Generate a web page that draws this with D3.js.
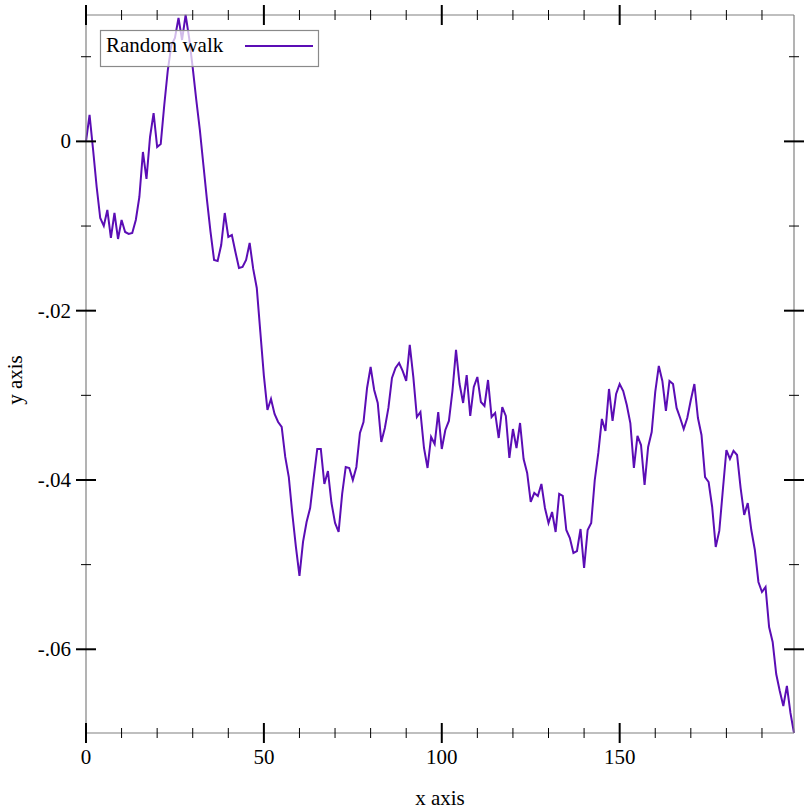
<!DOCTYPE html>
<html>
<head>
<meta charset="utf-8">
<script src="https://cdn.jsdelivr.net/npm/d3@7"></script>
<style>
  html, body { margin: 0; padding: 0; background: #ffffff; }
  svg { display: block; }
</style>
</head>
<body>
<svg id="chart" width="812" height="812"></svg>
<script>
// ---------------- data ----------------
const seriesName = "Random walk";
const walkValues = [
  0.00000, 0.00312, -0.00102, -0.00539, -0.00905, -0.00999, -0.00810, -0.01141, -0.00846, -0.01153,
  -0.00929, -0.01070, -0.01094, -0.01082, -0.00929, -0.00657, -0.00125, -0.00444, 0.00052, 0.00335,
  -0.00066, -0.00031, 0.00430, 0.00843, 0.01139, 0.01221, 0.01458, 0.01198, 0.01493, 0.01221,
  0.00867, 0.00489, 0.00135, -0.00279, -0.00692, -0.01070, -0.01401, -0.01413, -0.01224, -0.00846,
  -0.01129, -0.01106, -0.01307, -0.01496, -0.01484, -0.01401, -0.01200, -0.01507, -0.01732, -0.02252,
  -0.02771, -0.03173, -0.03043, -0.03220, -0.03315, -0.03374, -0.03728, -0.03965, -0.04402, -0.04791,
  -0.05134, -0.04732, -0.04496, -0.04331, -0.03976, -0.03634, -0.03634, -0.04047, -0.03894, -0.04272,
  -0.04508, -0.04614, -0.04165, -0.03846, -0.03858, -0.04000, -0.03846, -0.03445, -0.03315, -0.02913,
  -0.02665, -0.02937, -0.03090, -0.03551, -0.03386, -0.03149, -0.02795, -0.02677, -0.02618, -0.02712,
  -0.02830, -0.02405, -0.02783, -0.03256, -0.03197, -0.03622, -0.03858, -0.03492, -0.03575, -0.03197,
  -0.03634, -0.03409, -0.03303, -0.02949, -0.02464, -0.02866, -0.03090, -0.02760, -0.03244, -0.02901,
  -0.02783, -0.03079, -0.03126, -0.02819, -0.03256, -0.03208, -0.03504, -0.03138, -0.03244, -0.03740,
  -0.03398, -0.03622, -0.03327, -0.03752, -0.03917, -0.04260, -0.04154, -0.04189, -0.04047, -0.04331,
  -0.04508, -0.04378, -0.04614, -0.04165, -0.04189, -0.04591, -0.04685, -0.04862, -0.04839, -0.04579,
  -0.05040, -0.04591, -0.04508, -0.04000, -0.03681, -0.03279, -0.03421, -0.02925, -0.03303, -0.02984,
  -0.02866, -0.02949, -0.03114, -0.03327, -0.03858, -0.03480, -0.03587, -0.04059, -0.03610, -0.03433,
  -0.02960, -0.02653, -0.02830, -0.03185, -0.02830, -0.02866, -0.03149, -0.03268, -0.03398, -0.03268,
  -0.03055, -0.02866, -0.03268, -0.03468, -0.03965, -0.04024, -0.04319, -0.04791, -0.04602, -0.04118,
  -0.03646, -0.03752, -0.03657, -0.03705, -0.04095, -0.04413, -0.04272, -0.04591, -0.04827, -0.05205,
  -0.05323, -0.05264, -0.05737, -0.05914, -0.06292, -0.06493, -0.06670, -0.06433, -0.06752, -0.06989
];
const stepIndex = walkValues.map((_, i) => i);

const xMajorTicks = [0, 50, 100, 150];
const xMajorLabels = ["0", "50", "100", "150"];
const xMinorTicks = [10, 20, 30, 40, 60, 70, 80, 90, 110, 120, 130, 140, 160, 170, 180, 190];
const yMajorTicks = [0, -0.02, -0.04, -0.06];
const yMajorLabels = ["0", "-.02", "-.04", "-.06"];
const yMinorTicks = [0.01, -0.01, -0.03, -0.05];
const xAxisTitle = "x axis";
const yAxisTitle = "y axis";

// ---------------- layout ----------------
const W = 812, H = 812;
const plot = { left: 86, right: 794, top: 15, bottom: 733 };
const lineColor = "#5b0db5";
const fontFamily = "'Liberation Serif', 'Times New Roman', Times, serif";
const fontSize = 21;

const svg = d3.select("#chart");

const x = d3.scaleLinear()
  .domain(d3.extent(stepIndex))
  .range([plot.left, plot.right]);
const y = d3.scaleLinear()
  .domain(d3.extent(walkValues))
  .range([plot.bottom, plot.top]);

// data line
const line = d3.line()
  .x((d, i) => x(stepIndex[i]))
  .y(d => y(d));

svg.append("path")
  .datum(walkValues)
  .attr("d", line)
  .attr("fill", "none")
  .attr("stroke", lineColor)
  .attr("stroke-width", 2)
  .attr("stroke-linejoin", "miter");

// axes frame lines
const axisColor = "#808080";
const frame = svg.append("g");
frame.append("line").attr("x1", plot.left).attr("x2", plot.right).attr("y1", plot.bottom).attr("y2", plot.bottom);
frame.append("line").attr("x1", plot.left).attr("x2", plot.right).attr("y1", plot.top).attr("y2", plot.top);
frame.append("line").attr("x1", plot.left).attr("x2", plot.left).attr("y1", plot.top).attr("y2", plot.bottom);
frame.append("line").attr("x1", plot.right).attr("x2", plot.right).attr("y1", plot.top).attr("y2", plot.bottom);
frame.selectAll("line").attr("stroke", axisColor).attr("stroke-width", 1.2);

// ticks
const ticks = svg.append("g");
function hTicks(values, yPos, half, width) {
  ticks.selectAll(null).data(values).enter().append("line")
    .attr("x1", d => x(d)).attr("x2", d => x(d))
    .attr("y1", yPos - half).attr("y2", yPos + half)
    .attr("stroke", "#000").attr("stroke-width", width);
}
function vTicks(values, xPos, half, width) {
  ticks.selectAll(null).data(values).enter().append("line")
    .attr("y1", d => y(d)).attr("y2", d => y(d))
    .attr("x1", xPos - half).attr("x2", xPos + half)
    .attr("stroke", "#000").attr("stroke-width", width);
}
[plot.bottom, plot.top].forEach(p => { hTicks(xMinorTicks, p, 5, 1); hTicks(xMajorTicks, p, 10, 2); });
[plot.left, plot.right].forEach(p => { vTicks(yMinorTicks, p, 5, 1); vTicks(yMajorTicks, p, 10, 2); });

// tick labels
const labels = svg.append("g")
  .attr("font-family", fontFamily)
  .attr("font-size", fontSize)
  .attr("fill", "#000");
labels.selectAll(null).data(xMajorTicks).enter().append("text")
  .attr("x", d => x(d))
  .attr("y", plot.bottom + 31)
  .attr("text-anchor", "middle")
  .text((d, i) => xMajorLabels[i]);
labels.selectAll(null).data(yMajorTicks).enter().append("text")
  .attr("x", plot.left - 15)
  .attr("y", d => y(d) + 7)
  .attr("text-anchor", "end")
  .text((d, i) => yMajorLabels[i]);

// axis titles
labels.append("text")
  .attr("x", (plot.left + plot.right) / 2)
  .attr("y", 805)
  .attr("text-anchor", "middle")
  .text(xAxisTitle);
labels.append("text")
  .attr("transform", `translate(22, ${(plot.top + plot.bottom) / 2 + 6}) rotate(-90)`)
  .attr("text-anchor", "middle")
  .text(yAxisTitle);

// legend
const legend = svg.append("g");
legend.append("rect")
  .attr("x", 100.5).attr("y", 30.5)
  .attr("width", 218).attr("height", 36)
  .attr("fill", "#ffffff").attr("fill-opacity", 0.72)
  .attr("stroke", "#8a8a8a").attr("stroke-width", 1.2);
legend.append("text")
  .attr("x", 106).attr("y", 52)
  .attr("font-family", fontFamily)
  .attr("font-size", fontSize)
  .attr("fill", "#000")
  .text(seriesName);
legend.append("line")
  .attr("x1", 245).attr("x2", 313)
  .attr("y1", 46).attr("y2", 46)
  .attr("stroke", lineColor).attr("stroke-width", 2);
</script>
</body>
</html>
